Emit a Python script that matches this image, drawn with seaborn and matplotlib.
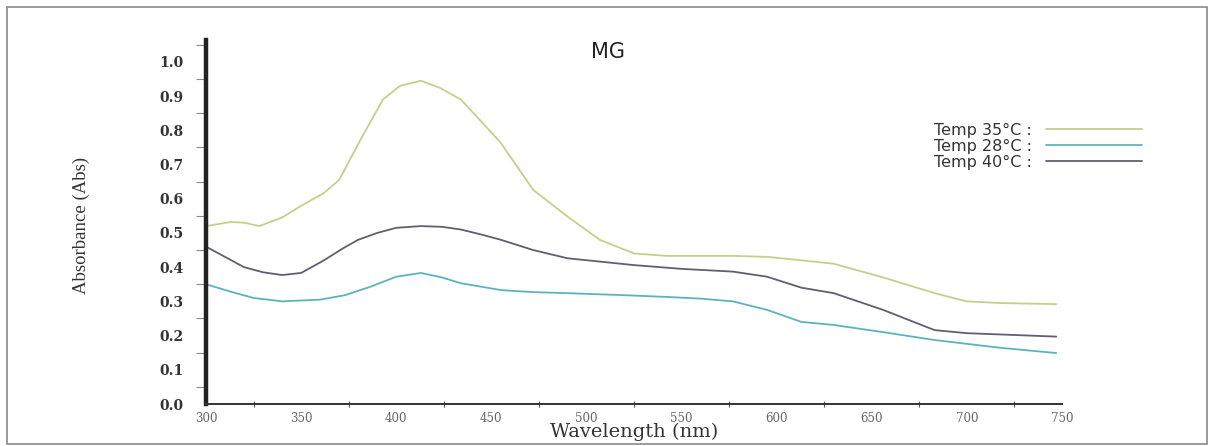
import matplotlib
matplotlib.use("Agg")
import pandas as pd
import seaborn as sns
from matplotlib import pyplot as plt
from matplotlib.patches import Rectangle
from matplotlib.ticker import MultipleLocator


# --- data ---
wl_35 = [300, 313, 320, 328, 340, 349, 362, 370, 381, 393, 402, 413, 423, 434, 444,
         455, 472, 490, 507, 525, 542, 560, 577, 595, 613, 630, 656, 683, 700, 718, 747]
abs_35 = [0.52, 0.532, 0.53, 0.52, 0.545, 0.576, 0.617, 0.655, 0.77, 0.89, 0.93, 0.945, 0.924,
          0.89, 0.83, 0.763, 0.626, 0.548, 0.48, 0.44, 0.433, 0.433, 0.433, 0.43, 0.42, 0.41,
          0.37, 0.324, 0.30, 0.295, 0.292]

wl_28 = [300, 315, 325, 340, 360, 373, 386, 400, 413, 424, 434, 455, 472, 490, 520,
         542, 560, 577, 595, 613, 630, 656, 683, 718, 747]
abs_28 = [0.35, 0.325, 0.31, 0.30, 0.305, 0.318, 0.342, 0.372, 0.383, 0.37, 0.353, 0.333,
          0.327, 0.324, 0.318, 0.313, 0.308, 0.30, 0.275, 0.24, 0.231, 0.21, 0.187, 0.164, 0.149]

wl_40 = [300, 310, 320, 330, 340, 350, 362, 372, 380, 390, 400, 413, 424, 434, 445,
         455, 472, 490, 525, 550, 577, 595, 613, 630, 656, 683, 700, 747]
abs_40 = [0.46, 0.43, 0.40, 0.385, 0.377, 0.383, 0.42, 0.455, 0.48, 0.50, 0.515, 0.52, 0.518,
          0.51, 0.495, 0.48, 0.45, 0.426, 0.406, 0.395, 0.387, 0.372, 0.34, 0.324, 0.275,
          0.216, 0.207, 0.197]

series_labels = ["Temp 35°C :", "Temp 28°C :", "Temp 40°C :"]
series_colors = ["#c9cd8c", "#5db3bd", "#5f5f70"]


def build_frame():
    parts = []
    for label, wl, ab in zip(series_labels, [wl_35, wl_28, wl_40], [abs_35, abs_28, abs_40]):
        parts.append(pd.DataFrame({"wavelength": wl, "absorbance": ab, "sample": label}))
    return pd.concat(parts, ignore_index=True)


df = build_frame()

sns.set_style("white")
fig = plt.figure(figsize=(12.08, 4.46), dpi=100)
ax = fig.add_axes([206 / 1208, 42 / 446, 856 / 1208, 364 / 446])

sns.lineplot(data=df, x="wavelength", y="absorbance", hue="sample",
             hue_order=series_labels, palette=series_colors, linewidth=1.3,
             sort=False, ax=ax)

ax.set_xlim(300, 750)
ax.set_ylim(0, 1.064)
ax.xaxis.set_major_locator(MultipleLocator(50))
ax.xaxis.set_minor_locator(MultipleLocator(25))
ax.yaxis.set_minor_locator(MultipleLocator(0.05))
ax.set_yticks([i / 10 for i in range(11)])

for side in ["top", "right"]:
    ax.spines[side].set_visible(False)
ax.spines["left"].set_linewidth(3.2)
ax.spines["left"].set_color("#222222")
ax.spines["bottom"].set_linewidth(1.4)
ax.spines["bottom"].set_color("#333333")

ax.tick_params(axis="y", which="major", direction="out", length=11, width=0.8,
               color="#666666", labelsize=10, labelcolor="#333333", pad=5)
ax.tick_params(axis="y", which="minor", direction="out", length=7, width=0.8,
               color="#888888", left=True)
ax.tick_params(axis="x", which="major", direction="out", length=4, width=1.0,
               color="#333333", labelsize=8.5, labelcolor="#666666", pad=2)
ax.tick_params(axis="x", which="minor", direction="inout", length=4, width=0.8,
               color="#555555", bottom=True)
ax.set_xticks(range(300, 751, 50))
ax.set_xticklabels([str(v) for v in range(300, 751, 50)], family="DejaVu Serif")
ax.set_yticklabels([f"{i / 10:.1f}" for i in range(11)], family="DejaVu Serif",
                   fontweight="bold")

ax.set_xlabel("Wavelength (nm)", family="DejaVu Serif", fontsize=14, color="#333333")
ax.xaxis.set_label_coords(0.5, -0.052)
ax.set_ylabel("Absorbance (Abs)", family="Liberation Serif", fontsize=13.5, color="#333333")
ax.yaxis.set_label_coords(-0.1355, 0.49)

ax.text(0.47, 0.967, "MG", transform=ax.transAxes, ha="center", va="center",
        fontsize=15, family="DejaVu Sans", color="#222222")

ax.legend(loc="upper right", bbox_to_anchor=(1150 / 1208, 1 - 115 / 446),
          bbox_transform=fig.transFigure, frameon=False, markerfirst=False,
          handlelength=6.0, handletextpad=0.9, labelspacing=0.06,
          borderpad=0, prop={"family": "DejaVu Sans", "size": 11.5})
for txt in ax.get_legend().get_texts():
    txt.set_color("#333333")

fig.patches.append(Rectangle((7 / 1208, 2 / 446), 1200 / 1208, 437 / 446,
                             transform=fig.transFigure, fill=False,
                             edgecolor="#8a8a8a", linewidth=1.2))

fig.savefig("out.png", dpi=100)
